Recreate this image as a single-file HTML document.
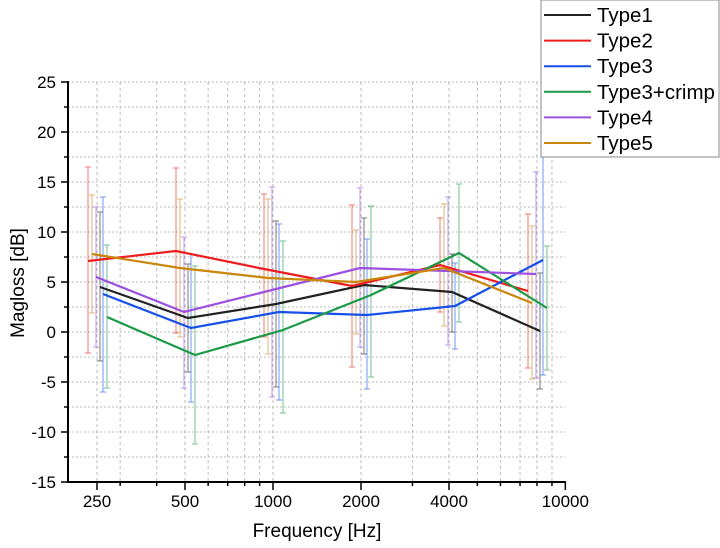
<!DOCTYPE html>
<html><head><meta charset="utf-8"><style>
body{margin:0;background:#fff;}
svg{display:block;font-family:"Liberation Sans",Arial,sans-serif;}
</style></head><body>
<svg id="chart" width="720" height="548" viewBox="0 0 720 548" xmlns="http://www.w3.org/2000/svg">
<g id="grid"></g>
<g id="axes"></g>
<g id="series"></g>
<text transform="translate(24,283) rotate(-90)" text-anchor="middle" font-size="19">Magloss [dB]</text>
<text x="317" y="537" text-anchor="middle" font-size="19">Frequency [Hz]</text>
<g id="legend"></g>
</svg>
<script>
const freqs = [250, 500, 1000, 2000, 4000, 8000];
const seriesNames = ["Type1", "Type2", "Type3", "Type3+crimp", "Type4", "Type5"];
const type1 = [4.5, 1.4, 2.8, 4.7, 4.0, 0.1];
const type1Hi = [12.0, 6.8, 11.1, 11.4, 7.8, 5.9];
const type1Lo = [-2.9, -4.0, -5.5, -2.2, 0.0, -5.7];
const type2 = [7.1, 8.1, 6.3, 4.6, 6.7, 4.1];
const type2Hi = [16.5, 16.4, 13.8, 12.7, 11.4, 11.8];
const type2Lo = [-2.1, -0.1, -0.5, -3.5, 2.0, -3.6];
const type3 = [3.8, 0.4, 2.0, 1.7, 2.6, 7.2];
const type3Hi = [13.5, 7.8, 10.8, 9.3, 6.9, 18.6];
const type3Lo = [-6.0, -7.0, -6.8, -5.7, -1.7, -4.3];
const type3c = [1.5, -2.3, 0.2, 3.7, 7.9, 2.4];
const type3cHi = [8.7, 6.6, 9.1, 12.6, 14.8, 8.6];
const type3cLo = [-5.6, -11.2, -8.1, -4.5, 1.0, -3.8];
const type4 = [5.5, 2.0, 4.2, 6.4, 6.1, 5.8];
const type4Hi = [12.5, 9.5, 14.5, 14.4, 13.5, 16.0];
const type4Lo = [-1.5, -5.6, -6.5, -1.5, -1.3, -4.6];
const type5 = [7.8, 6.4, 5.4, 5.0, 6.4, 2.9];
const type5Hi = [13.7, 13.3, 13.3, 10.2, 12.8, 10.6];
const type5Lo = [1.9, -0.5, -2.2, -0.2, 0.6, -4.7];
const yTicks = [-15, -10, -5, 0, 5, 10, 15, 20, 25];
const xTickLabels = [250, 500, 1000, 2000, 4000, 10000];
const xMinor = [300,400,600,700,800,900,3000,5000,6000,7000,8000,9000];

const NS = "http://www.w3.org/2000/svg";
const X0 = 97, OCT = 88, Y25 = 82, PXDB = 10;
const xS = f => X0 + Math.log2(f/250)*OCT;
const yS = v => Y25 + (25 - v)*PXDB;
const L = 68, R = 565, T = 82, B = 482;
function mk(tag, attrs, parent){const e=document.createElementNS(NS,tag);for(const k in attrs)e.setAttribute(k,attrs[k]);parent.appendChild(e);return e;}
const grid=document.getElementById('grid'), axes=document.getElementById('axes'), ser=document.getElementById('series'), leg=document.getElementById('legend');

for(let v=-12.5; v<=25; v+=2.5){
  const g=mk('line',{x1:L,x2:R,y1:yS(v),y2:yS(v),stroke:'#bbb','stroke-dasharray':'2,2','stroke-width':1},grid);
  
  
}
xTickLabels.concat(xMinor).forEach(f=>{
  if(f>=10000) return;
  const g=mk('line',{x1:xS(f),x2:xS(f),y1:T,y2:B,stroke:'#bbb','stroke-dasharray':'3,3','stroke-width':1},grid);
  
  
});
mk('line',{x1:L,x2:L,y1:T-1,y2:B+1,stroke:'#000','stroke-width':2},axes);
mk('line',{x1:L-1,x2:R+1,y1:B,y2:B,stroke:'#000','stroke-width':2},axes);
for(let v=-15; v<=25; v+=2.5){
  const major = v%5===0;
  mk('line',{x1:L-(major?7:4),x2:L,y1:yS(v),y2:yS(v),stroke:'#000','stroke-width':1.5},axes);
}
yTicks.forEach(v=>{
  const t=mk('text',{x:56,y:yS(v)+6,'text-anchor':'end','font-size':17},axes);
  t.textContent=v;
  
  
});
xTickLabels.forEach(f=>{
  mk('line',{x1:xS(f),x2:xS(f),y1:B,y2:B+8,stroke:'#000','stroke-width':1.5},axes);
  const t=mk('text',{x:xS(f),y:B+25,'text-anchor':'middle','font-size':17},axes);
  t.textContent=f;
  
  
});
xMinor.forEach(f=>mk('line',{x1:xS(f),x2:xS(f),y1:B,y2:B+4,stroke:'#000','stroke-width':1.5},axes));

const colors=['#222222','#ee1c1c','#1650e8','#1a9a46','#9b50e0','#c8860a'];
const offsets=[3,-9,6,10,-1,-5];
const means=[type1,type2,type3,type3c,type4,type5];
const his=[type1Hi,type2Hi,type3Hi,type3cHi,type4Hi,type5Hi];
const los=[type1Lo,type2Lo,type3Lo,type3cLo,type4Lo,type5Lo];
means.forEach((m,s)=>{
  const g=mk('g',{opacity:0.6},ser);
  
  
  freqs.forEach((f,i)=>{
    const x=xS(f)+offsets[s], y1=yS(his[s][i]), y2=yS(los[s][i]);
    mk('line',{x1:x,x2:x,y1:y1,y2:y2,stroke:colors[s],'stroke-width':1},g);
    mk('line',{x1:x-3,x2:x+3,y1:y1,y2:y1,stroke:colors[s],'stroke-width':1},g);
    mk('line',{x1:x-3,x2:x+3,y1:y2,y2:y2,stroke:colors[s],'stroke-width':1},g);
  });
});
means.forEach((m,s)=>{
  const pts=freqs.map((f,i)=>(xS(f)+offsets[s])+','+yS(m[i])).join(' ');
  const p=mk('polyline',{points:pts,fill:'none',stroke:colors[s],'stroke-width':2.2},ser);
  
  
});
mk('rect',{x:541,y:0,width:178,height:157,fill:'#fff',stroke:'#888','stroke-width':1},leg);
seriesNames.forEach((n,i)=>{
  const y=15+i*25.6;
  const g=mk('g',{},leg);
  
  
  mk('line',{x1:544,x2:591,y1:y,y2:y,stroke:colors[i],'stroke-width':2},g);
  const t=mk('text',{x:597,y:y+7,'font-size':20.5},g);
  t.textContent=n;
});
</script>
</body></html>
